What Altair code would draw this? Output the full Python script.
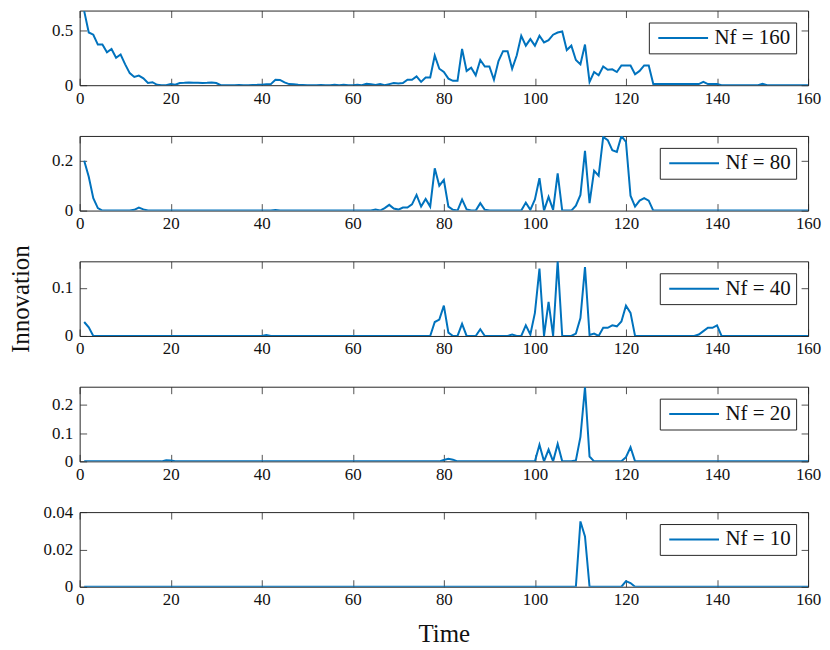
import altair as alt
import pandas as pd

# ---------------- data ----------------
time = list(range(1, 161))
nf_labels = ["Nf = 160", "Nf = 80", "Nf = 40", "Nf = 20", "Nf = 10"]
y_max = [0.68, 0.30, 0.155, 0.265, 0.04]
y_ticks = [[0, 0.5], [0, 0.2], [0, 0.1], [0, 0.1, 0.2], [0, 0.02, 0.04]]
x_ticks = [0, 20, 40, 60, 80, 100, 120, 140, 160]

Z = [0, 0, 0, 0, 0, 0, 0, 0, 0, 0]

nf160 = (
    [0.675, 0.48, 0.46, 0.37, 0.37, 0.30, 0.33, 0.25, 0.28, 0.19]
    + [0.11, 0.075, 0.087, 0.063, 0.02, 0.027, 0.003, 0.0, 0.0, 0.01]
    + [0.005, 0.02, 0.022, 0.025, 0.022, 0.022, 0.02, 0.022, 0.025, 0.02]
    + [0.0, 0.0, 0.0, 0.0, 0.002, 0.0, 0.0, 0.002, 0.003, 0.005]
    + [0.008, 0.01, 0.05, 0.048, 0.025, 0.01, 0.008, 0.004, 0.002, 0.0]
    + [0.0, 0.0, 0.002, 0.0, 0.0, 0.003, 0.0, 0.004, 0.0, 0.0]
    + [0.003, 0.0, 0.012, 0.008, 0.003, 0.01, 0.0, 0.01, 0.02, 0.015]
    + [0.02, 0.05, 0.05, 0.08, 0.03, 0.07, 0.07, 0.27, 0.15, 0.12]
    + [0.06, 0.04, 0.04, 0.33, 0.13, 0.16, 0.09, 0.23, 0.17, 0.17]
    + [0.05, 0.22, 0.31, 0.31, 0.15, 0.27, 0.45, 0.36, 0.42, 0.36]
    + [0.45, 0.39, 0.41, 0.46, 0.48, 0.49, 0.32, 0.36, 0.23, 0.19]
    + [0.37, 0.03, 0.12, 0.09, 0.17, 0.14, 0.145, 0.12, 0.18, 0.18]
    + [0.18, 0.10, 0.13, 0.18, 0.18, 0.01, 0.01, 0.01, 0.01, 0.01]
    + [0.01, 0.01, 0.01, 0.01, 0.01, 0.01, 0.03, 0.01, 0.01, 0.01]
    + [0.0, 0.0, 0.0, 0.0, 0.0, 0.0, 0.0, 0.0, 0.0, 0.012]
    + Z
)

nf80 = (
    [0.20, 0.136, 0.05, 0.01, 0, 0, 0, 0, 0, 0]
    + [0, 0.003, 0.012, 0.005, 0, 0, 0, 0, 0, 0]
    + Z + Z
    + [0, 0, 0.002, 0, 0, 0, 0, 0, 0, 0]
    + Z
    + [0, 0, 0, 0, 0.004, 0, 0.01, 0.023, 0.008, 0.004]
    + [0.012, 0.012, 0.025, 0.063, 0.016, 0.047, 0.016, 0.17, 0.10, 0.123]
    + [0.016, 0.003, 0, 0.045, 0.005, 0, 0, 0.03, 0.003, 0]
    + [0, 0, 0, 0, 0, 0, 0, 0.032, 0.003, 0.045]
    + [0.13, 0, 0.055, 0.003, 0.15, 0, 0, 0, 0.02, 0.063]
    + [0.24, 0.03, 0.16, 0.14, 0.296, 0.283, 0.243, 0.236, 0.30, 0.276]
    + [0.06, 0.016, 0.04, 0.05, 0.04, 0, 0, 0, 0, 0]
    + Z + Z + Z
)

nf40 = (
    [0.029, 0.018, 0, 0, 0, 0, 0, 0, 0, 0]
    + Z + Z + Z
    + [0.002, 0, 0, 0, 0, 0, 0, 0, 0, 0]
    + Z + Z
    + [0, 0, 0, 0, 0, 0, 0, 0.029, 0.034, 0.063]
    + [0.007, 0, 0, 0.025, 0, 0, 0, 0.014, 0, 0]
    + [0, 0, 0, 0, 0.003, 0, 0, 0.022, 0.003, 0.048]
    + [0.14, 0, 0.071, 0, 0.155, 0, 0, 0, 0.005, 0.037]
    + [0.143, 0.002, 0.005, 0, 0.017, 0.017, 0.022, 0.02, 0.03, 0.063]
    + [0.048, 0, 0, 0, 0, 0, 0, 0, 0, 0]
    + [0, 0, 0, 0, 0, 0.003, 0.01, 0.017, 0.017, 0.022]
    + Z + Z
)

nf20 = (
    Z
    + [0, 0, 0, 0, 0, 0, 0, 0, 0.004, 0.003]
    + Z + Z + Z + Z + Z
    + [0, 0, 0, 0, 0, 0, 0, 0, 0, 0.005]
    + [0.009, 0.006, 0, 0, 0, 0, 0, 0, 0, 0]
    + Z
    + [0.059, 0, 0.042, 0, 0.062, 0, 0, 0, 0.003, 0.087]
    + [0.263, 0.017, 0, 0, 0, 0, 0, 0, 0, 0.015]
    + [0.05, 0, 0, 0, 0, 0, 0, 0, 0, 0]
    + Z + Z + Z
)

nf10 = (
    Z + Z + Z + Z + Z + Z + Z + Z + Z + Z
    + [0, 0, 0, 0, 0, 0, 0, 0, 0, 0.035]
    + [0.027, 0, 0, 0, 0, 0, 0, 0, 0, 0.003]
    + [0.002, 0, 0, 0, 0, 0, 0, 0, 0, 0]
    + Z + Z + Z
)

series = [nf160, nf80, nf40, nf20, nf10]

# ---------------- styling ----------------
FONT = "Liberation Serif"
AXC = "#262626"
TXT = "#111111"
LINE = "#0072BD"
W, H = 732, 75


def panel(i):
    df = pd.DataFrame({"t": time, "v": series[i], "s": nf_labels[i]})

    xkw = dict(
        values=x_ticks, grid=True, gridDash=[7, H - 14, 7], gridColor=AXC,
        gridWidth=0.8, gridOpacity=1, ticks=False, domain=False,
        labelFont=FONT, labelFontSize=17, labelColor=TXT,
        labelPadding=5, labelFlush=False,
    )
    if i == 4:
        xkw.update(title="Time", titleFont=FONT, titleFontSize=25,
                   titleFontWeight="normal", titleColor=TXT,
                   titlePadding=14)
    else:
        xkw.update(title=None)

    ykw = dict(
        values=y_ticks[i], format="~g", grid=True, gridDash=[7, W - 14, 7],
        gridColor=AXC, gridWidth=0.8, gridOpacity=1, ticks=False,
        domain=False, labelFont=FONT, labelFontSize=17,
        labelColor=TXT, labelPadding=7, labelFlush=False,
    )
    if i == 2:
        ykw.update(title="Innovation", titleFont=FONT, titleFontSize=25,
                   titleFontWeight="normal", titleColor=TXT,
                   titleX=-46, titleY=H / 2, titleAlign="center",
                   titleBaseline="bottom", titleAngle=270)
    else:
        ykw.update(title=None)

    return (
        alt.Chart(df)
        .mark_line(strokeWidth=2, clip=True)
        .encode(
            x=alt.X("t:Q", scale=alt.Scale(domain=[0, 160], nice=False),
                    axis=alt.Axis(**xkw)),
            y=alt.Y("v:Q", scale=alt.Scale(domain=[0, y_max[i]], nice=False,
                                           zero=True),
                    axis=alt.Axis(**ykw)),
            color=alt.Color(
                "s:N",
                scale=alt.Scale(range=[LINE]),
                legend=alt.Legend(
                    title=None, orient="top-right", offset=12,
                    symbolType="M-5,0H5", symbolSize=100,
                    symbolOffset=19, symbolStrokeWidth=2,
                    labelFont=FONT, labelFontSize=21,
                    labelColor=TXT, labelOffset=21, labelLimit=300,
                    strokeColor=AXC, fillColor="white", padding=5,
                    cornerRadius=0,
                ),
            ),
        )
        .properties(width=W, height=H)
    )


chart = (
    alt.vconcat(*[panel(i) for i in range(5)], spacing=51, bounds="flush")
    .resolve_scale(color="independent", x="independent", y="independent")
    .configure(font=FONT)
    .configure_view(stroke=AXC, strokeWidth=1)
    .properties(padding={"left": 0, "top": 0, "right": 0, "bottom": 0},
                background="white")
)

chart.save("out.html", embed_options={"renderer": "svg", "actions": False})
